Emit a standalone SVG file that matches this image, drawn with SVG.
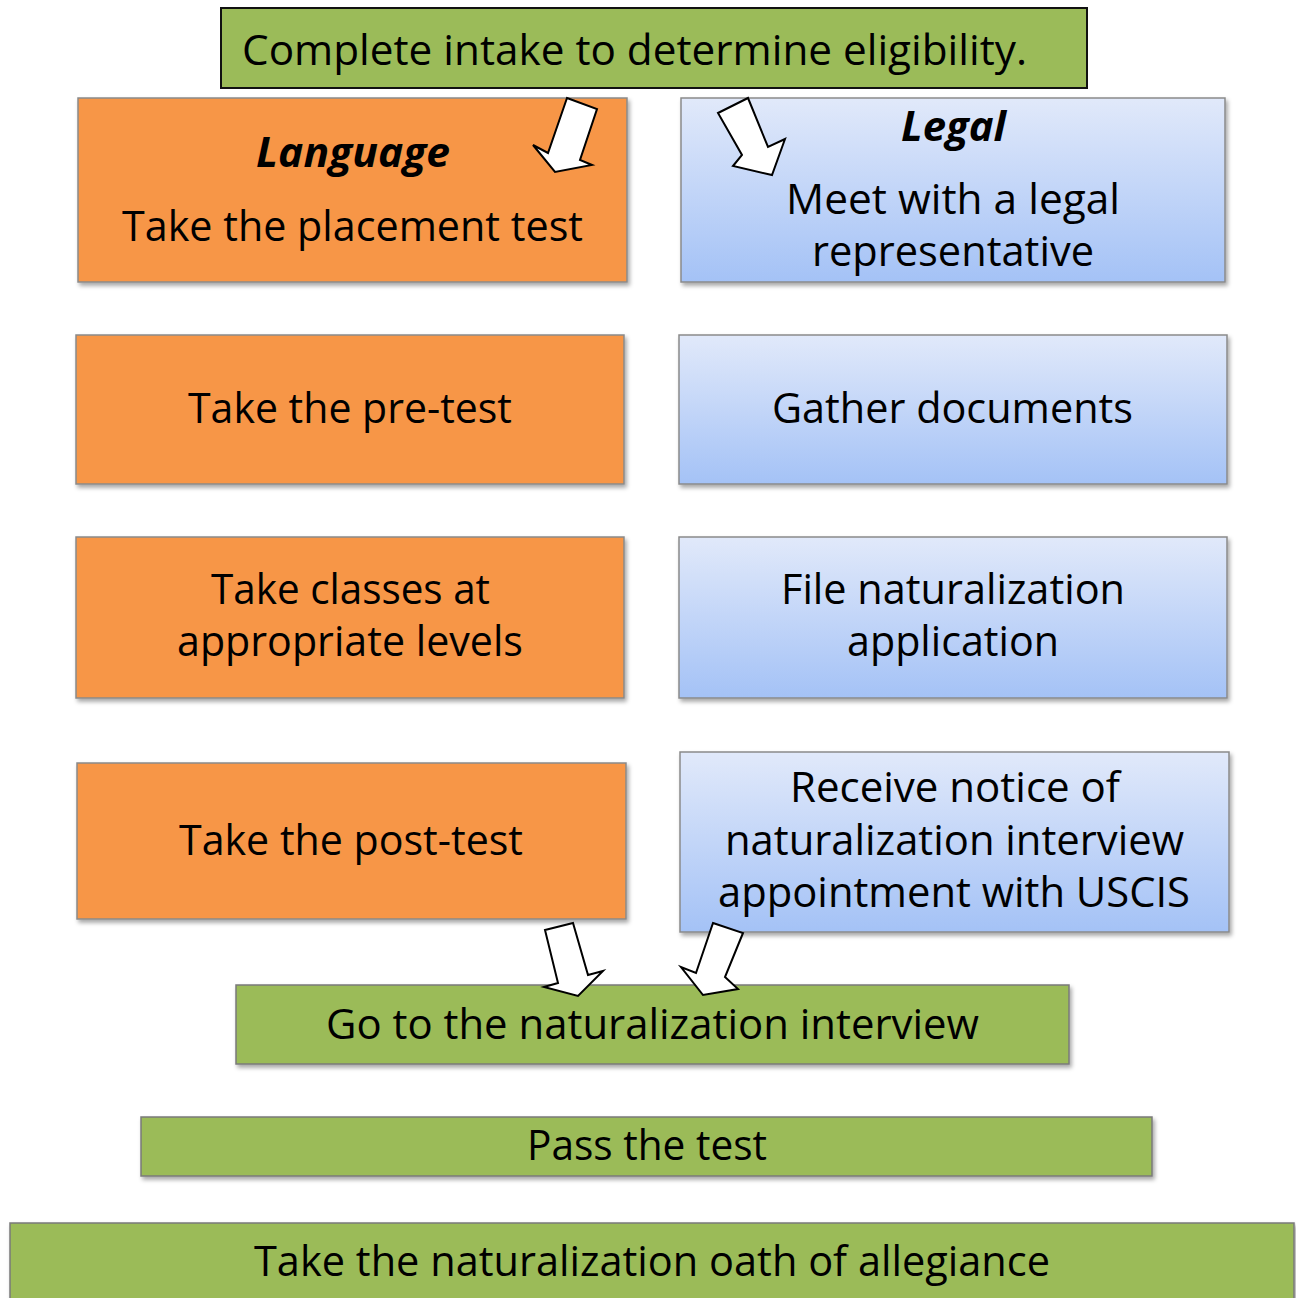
<svg xmlns="http://www.w3.org/2000/svg" width="1296" height="1298" viewBox="0 0 1296 1298">
<defs>
<linearGradient id="blueGrad" x1="0" y1="0" x2="0" y2="1">
<stop offset="0" stop-color="#e1e9fa"/>
<stop offset="1" stop-color="#a4c2f6"/>
</linearGradient>
<filter id="shadow" x="-5%" y="-10%" width="110%" height="130%">
<feDropShadow dx="2" dy="3" stdDeviation="2" flood-color="#000" flood-opacity="0.35"/>
</filter>
<style>
.orange{fill:#f79646;stroke:#8a8a8a;stroke-width:1.5;filter:url(#shadow)}
.blue{fill:url(#blueGrad);stroke:#8a8a8a;stroke-width:1.5;filter:url(#shadow)}
.green{fill:#9bbb59;stroke:#7a7a7a;stroke-width:1.5;filter:url(#shadow)}
.greenTop{fill:#9bbb59;stroke:#111;stroke-width:2}
text{font-family:"Open Sans","Noto Sans","Liberation Sans",sans-serif;font-size:41.5px;fill:#000;text-anchor:middle}
.hd{font-weight:bold;font-style:italic}
.arrow{fill:#fff;stroke:#000;stroke-width:2;stroke-linejoin:miter}
</style>
</defs>
<rect width="1296" height="1298" fill="#fff"/>

<g id="intake">
<rect class="greenTop" x="221" y="8" width="866" height="80"/>
<text x="634.5" y="65" textLength="785" lengthAdjust="spacingAndGlyphs">Complete intake to determine eligibility.</text>
</g>

<g id="language">
<rect class="orange" x="78" y="98" width="549" height="184"/>
<text class="hd" x="353" y="167" textLength="194" lengthAdjust="spacingAndGlyphs">Language</text>
<text x="352.5" y="241" textLength="461" lengthAdjust="spacingAndGlyphs">Take the placement test</text>
</g>

<g id="legal">
<rect class="blue" x="681" y="98" width="544" height="184"/>
<text class="hd" x="953.5" y="141" textLength="105" lengthAdjust="spacingAndGlyphs">Legal</text>
<text x="953" y="214" textLength="334" lengthAdjust="spacingAndGlyphs">Meet with a legal</text>
<text x="953" y="266" textLength="282" lengthAdjust="spacingAndGlyphs">representative</text>
</g>

<g id="pretest">
<rect class="orange" x="76" y="335" width="548" height="149"/>
<text x="350" y="423" textLength="324" lengthAdjust="spacingAndGlyphs">Take the pre-test</text>
</g>

<g id="gather">
<rect class="blue" x="679" y="335" width="548" height="149"/>
<text x="952.5" y="423" textLength="361" lengthAdjust="spacingAndGlyphs">Gather documents</text>
</g>

<g id="classes">
<rect class="orange" x="76" y="537" width="548" height="161"/>
<text x="350.5" y="604" textLength="279" lengthAdjust="spacingAndGlyphs">Take classes at</text>
<text x="350" y="656" textLength="346" lengthAdjust="spacingAndGlyphs">appropriate levels</text>
</g>

<g id="file">
<rect class="blue" x="679" y="537" width="548" height="161"/>
<text x="953" y="604" textLength="344" lengthAdjust="spacingAndGlyphs">File naturalization</text>
<text x="953" y="656" textLength="212" lengthAdjust="spacingAndGlyphs">application</text>
</g>

<g id="posttest">
<rect class="orange" x="77" y="763" width="549" height="156"/>
<text x="351" y="855" textLength="344" lengthAdjust="spacingAndGlyphs">Take the post-test</text>
</g>

<g id="notice">
<rect class="blue" x="680" y="752" width="549" height="180"/>
<text x="955" y="802" textLength="330" lengthAdjust="spacingAndGlyphs">Receive notice of</text>
<text x="954.5" y="855" textLength="459" lengthAdjust="spacingAndGlyphs">naturalization interview</text>
<text x="954" y="907" textLength="472" lengthAdjust="spacingAndGlyphs">appointment with USCIS</text>
</g>

<g id="interview">
<rect class="green" x="236" y="985" width="833" height="79"/>
<text x="652.5" y="1039" textLength="653" lengthAdjust="spacingAndGlyphs">Go to the naturalization interview</text>
</g>

<g id="pass">
<rect class="green" x="141" y="1117" width="1011" height="59"/>
<text x="647" y="1160" textLength="240" lengthAdjust="spacingAndGlyphs">Pass the test</text>
</g>

<g id="oath">
<rect class="green" x="10" y="1223" width="1284" height="100"/>
<text x="652" y="1276" textLength="796" lengthAdjust="spacingAndGlyphs">Take the naturalization oath of allegiance</text>
</g>

<g id="connectors">
<polygon class="arrow" points="567,98 597,109 580,160 592,165 555,172 533,145 548,153"/>
<polygon class="arrow" points="718,113 748,98 768,147 785,139 772,175 733,166 742,155"/>
<polygon class="arrow" points="545,930 573,923 588,975 603,971 578,996 544,987 558,983"/>
<polygon class="arrow" points="713,923 743,933 725,977 738,989 703,995 681,967 696,973"/>
</g>
</svg>
